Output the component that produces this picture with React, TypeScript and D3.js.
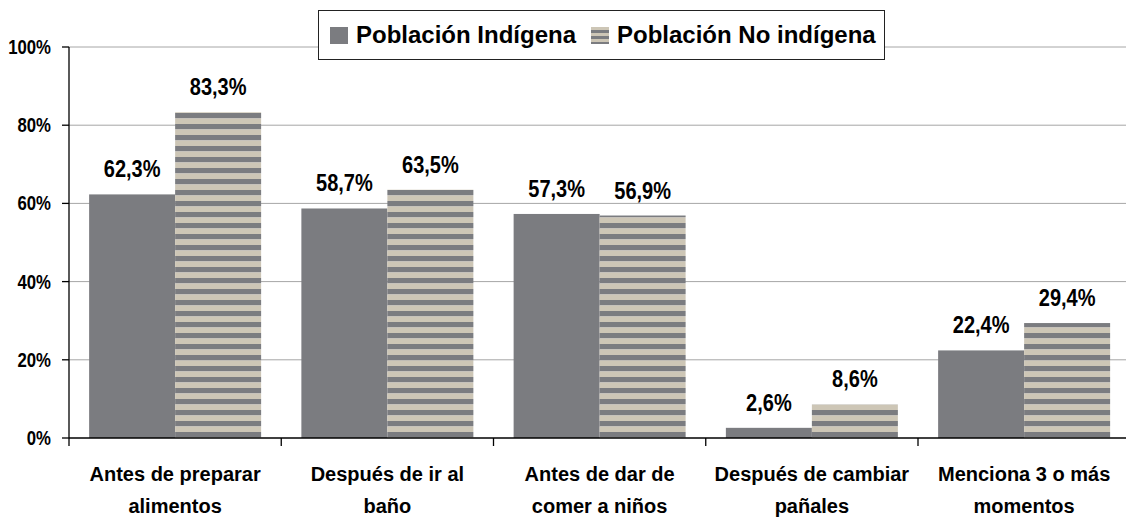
import React from 'react';
import * as d3 from 'd3';

const categories = [
  ['Antes de preparar', 'alimentos'],
  ['Después de ir al', 'baño'],
  ['Antes de dar de', 'comer a niños'],
  ['Después de cambiar', 'pañales'],
  ['Menciona 3 o más', 'momentos'],
];
const seriesNames = ['Población Indígena', 'Población No indígena'];
const indigena = [62.3, 58.7, 57.3, 2.6, 22.4];
const noIndigena = [83.3, 63.5, 56.9, 8.6, 29.4];
const yTicks = [0, 20, 40, 60, 80, 100];

const W = 1126;
const H = 518;
const FONT = '"Liberation Sans", Arial, sans-serif';
const GRAY = '#7b7c80';
const BEIGE = '#cdc6b6';

export default function App() {
  const margin = { left: 69, top: 47, bottom: 438 };
  const plotRight = 69 + 5 * 212.25;

  const x = d3.scaleBand<number>().domain(d3.range(categories.length)).range([margin.left, plotRight]).padding(0);
  const sub = d3.scaleBand<number>().domain([0, 1]).range([0, x.bandwidth()]).paddingInner(0).paddingOuter(0.234);
  const y = d3.scaleLinear().domain([0, 100]).range([margin.bottom, margin.top]);

  const series = [indigena, noIndigena];
  const fills = [GRAY, 'url(#stripes)'];
  const fmt = (v: number) => v.toFixed(1).replace('.', ',') + '%';

  return (
    <div style={{ position: 'absolute', left: 0, top: 0 }}>
      <svg width={W} height={H} style={{ display: 'block', background: '#fff' }} fontFamily={FONT} fontWeight="bold">
        <defs>
          <pattern id="stripes" patternUnits="userSpaceOnUse" x={0} y={3} width={20} height={11}>
            <rect x={0} y={0} width={20} height={5.5} fill={GRAY} />
            <rect x={0} y={5.5} width={20} height={5.5} fill={BEIGE} />
          </pattern>
          <pattern id="stripesSmall" patternUnits="userSpaceOnUse" x={0} y={27} width={20} height={6}>
            <rect x={0} y={0} width={20} height={3} fill={BEIGE} />
            <rect x={0} y={3} width={20} height={3} fill={GRAY} />
          </pattern>
        </defs>

        {/* gridlines */}
        {yTicks.filter(t => t > 0).map(t => (
          <line key={'g' + t} x1={margin.left} x2={W} y1={y(t)} y2={y(t)} stroke="#a6a6a6" strokeWidth={1} />
        ))}

        {/* bars */}
        {series.map((vals, s) =>
          vals.map((v, i) => (
            <rect key={`b${s}-${i}`} x={x(i)! + sub(s)!} y={y(v)} width={sub.bandwidth()} height={y(0) - y(v)} fill={fills[s]} />
          ))
        )}

        {/* value labels */}
        {series.map((vals, s) =>
          vals.map((v, i) => (
            <text key={`v${s}-${i}`}
              transform={`translate(${x(i)! + sub(s)! + sub.bandwidth() / 2},${y(v) - 17}) scale(0.87,1)`}
              textAnchor="middle" fontSize={23} fill="#000">
              {fmt(v)}
            </text>
          ))
        )}

        {/* y axis */}
        <line x1={margin.left} x2={margin.left} y1={y(100)} y2={y(0) + 8} stroke="#000" strokeWidth={1.3} />
        {yTicks.map(t => (
          <g key={'y' + t}>
            <line x1={margin.left - 7} x2={margin.left} y1={y(t)} y2={y(t)} stroke="#000" strokeWidth={1.3} />
            <text transform={`translate(51,${y(t) + 7}) scale(0.86,1)`} textAnchor="end" fontSize={19.5} fill="#000">{t + '%'}</text>
          </g>
        ))}

        {/* x axis */}
        <line x1={margin.left} x2={W} y1={y(0)} y2={y(0)} stroke="#000" strokeWidth={1.3} />
        {d3.range(1, categories.length + 1).map(i => (
          <line key={'xt' + i} x1={margin.left + i * x.step()} x2={margin.left + i * x.step()} y1={y(0)} y2={y(0) + 8} stroke="#000" strokeWidth={1.3} />
        ))}
        {categories.map((lines, i) => (
          <text key={'c' + i} x={x(i)! + x.bandwidth() / 2} textAnchor="middle" fontSize={20} fill="#000">
            {lines.map((l, k) => (
              <tspan key={k} x={x(i)! + x.bandwidth() / 2} y={481 + k * 32}>{l}</tspan>
            ))}
          </text>
        ))}

        {/* legend */}
        <rect x={318.5} y={10.5} width={566} height={49} fill="#fff" stroke="#222" strokeWidth={1} />
        <rect x={330} y={27} width={18} height={17} fill={GRAY} />
        <text x={356} y={43} fontSize={24} fill="#000">{seriesNames[0]}</text>
        <rect x={591} y={27} width={18} height={17} fill="url(#stripesSmall)" />
        <text x={617} y={43} fontSize={24} fill="#000">{seriesNames[1]}</text>
      </svg>
    </div>
  );
}
